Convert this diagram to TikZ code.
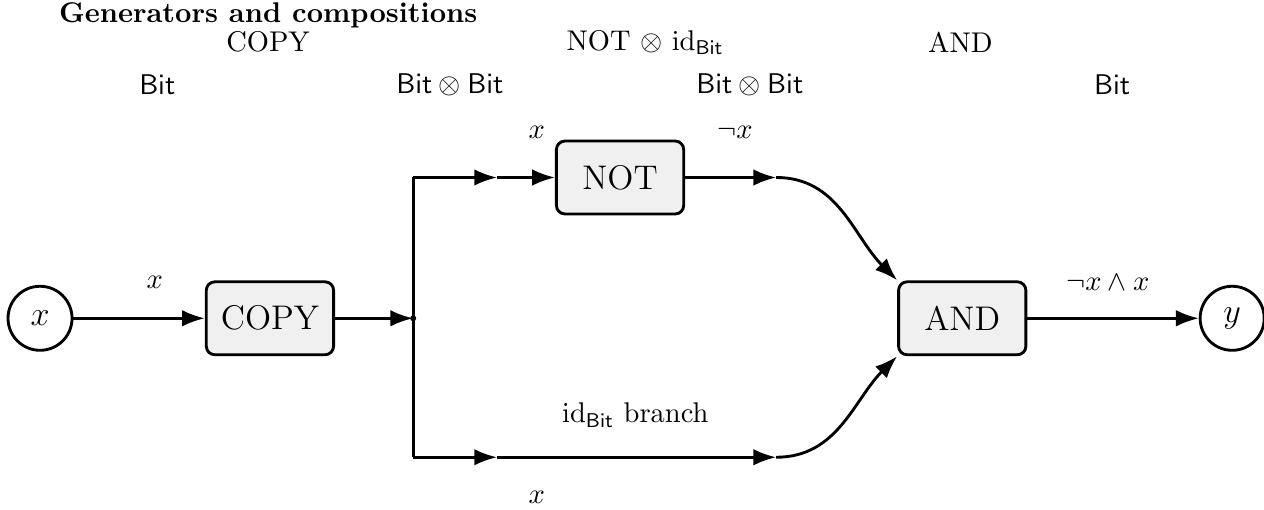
\documentclass[tikz,border=0pt]{standalone}
\usepackage{amsmath,amssymb,amsfonts}
\usepackage{tikz}
\usetikzlibrary{arrows.meta,calc}

\tikzset{
  gate/.style={draw,line width=1pt,rounded corners=3pt,fill=black!6,
    minimum width=1.57cm,minimum height=0.9cm,font=\large},
  port/.style={draw,circle,line width=1pt,minimum size=0.79cm,inner sep=0pt,font=\large},
  wire/.style={line width=1pt,-{Latex[length=8pt,width=5.8pt]}},
  plain/.style={line width=1pt},
}

\begin{document}
\begin{tikzpicture}[scale=0.755]
\useasboundingbox (0,-3.12) rectangle (20.65,5.20);
% header
\node[anchor=west,font=\bfseries] (title) at (0.80,4.95) {Generators and compositions};
\node (hcopy) at (4.38,4.51) {COPY};
\node (hnot) at (10.54,4.51) {NOT $\otimes$ $\mathrm{id}_{\mathsf{Bit}}$};
\node (hand) at (15.69,4.51) {AND};
\node (t0) at (2.57,3.82) {$\mathsf{Bit}$};
\node (t1) at (7.35,3.82) {$\mathsf{Bit}\otimes\mathsf{Bit}$};
\node (t2) at (12.25,3.82) {$\mathsf{Bit}\otimes\mathsf{Bit}$};
\node (t3) at (18.17,3.82) {$\mathsf{Bit}$};

% boxes
\node[port] (in) at (0.654,0) {$x$};
\node[gate] (copy) at (4.41,0) {COPY};
\node[gate] (not) at (10.13,2.30) {NOT};
\node[gate] (and) at (15.72,0) {AND};
\node[port] (out) at (20.13,0) {$y$};

\coordinate (split) at (6.75,0);
\coordinate (tc) at (6.75,2.30);
\coordinate (bc) at (6.75,-2.27);
\coordinate (ta) at (8.12,2.30);
\coordinate (ba) at (8.12,-2.27);
\coordinate (tb) at (12.68,2.30);
\coordinate (bb) at (12.68,-2.27);

% wires
\draw[wire] (in) -- (copy);
\draw[wire] (copy) -- (split);
\fill (split) circle (1.4pt);
\draw[plain] (tc) -- (bc);
\draw[wire] (tc) -- (ta);
\draw[wire] (ta) -- (not);
\draw[wire] (not) -- (tb);
\draw[wire] (tb) to[out=0,in=135] (and.north west);
\draw[wire] (bc) -- (ba);
\draw[wire] (ba) -- (bb);
\draw[wire] (bb) to[out=0,in=-135] (and.south west);
\draw[wire] (and) -- (out);

% labels
\node (l1) at (2.53,0.59) {$x$};
\node (l2) at (8.77,3.04) {$x$};
\node (l3) at (12.01,3.04) {$\neg x$};
\node (l4) at (18.10,0.59) {$\neg x \wedge x$};
\node (l5) at (10.38,-1.58) {$\mathrm{id}_{\mathsf{Bit}}$\ branch};
\node (l6) at (8.77,-2.92) {$x$};
\end{tikzpicture}
\end{document}
